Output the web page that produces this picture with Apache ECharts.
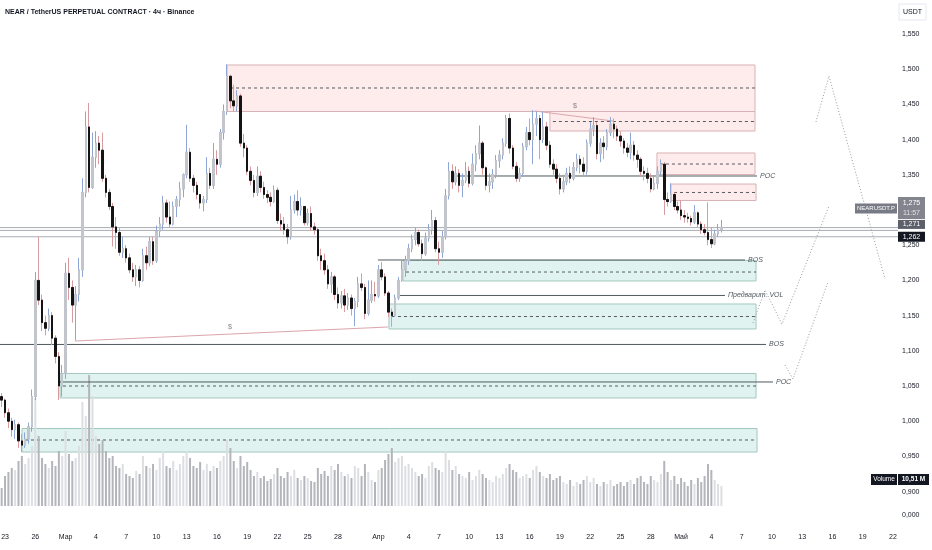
<!DOCTYPE html>
<html><head><meta charset="utf-8">
<script src="https://cdn.jsdelivr.net/npm/echarts@6/dist/echarts.min.js"></script>
<style>html,body{margin:0;padding:0;background:#fff}#c{width:932px;height:550px}</style>
</head><body><div id="c"></div>
<script>
// ---- data (8h candles, NEAR/USDT) ----
const startTime = Date.UTC(2025, 1, 22, 16); // first candle open time
const stepHours = 8;
const categoryCount = 267;
const firstOpen = 1.035;
const close = [
1.030,1.012,1.000,0.988,0.995,0.972,0.966,0.975,0.992,1.035,
1.200,1.172,1.140,1.132,1.150,1.118,1.092,1.050,1.068,1.210,
1.190,1.165,1.180,1.215,1.325,1.418,1.332,1.375,1.395,1.385,
1.345,1.325,1.305,1.276,1.268,1.240,1.245,1.232,1.215,1.205,
1.215,1.200,1.235,1.225,1.255,1.228,1.270,1.280,1.310,1.290,
1.280,1.305,1.315,1.330,1.350,1.382,1.345,1.335,1.322,1.310,
1.315,1.352,1.335,1.372,1.365,1.410,1.440,1.490,1.455,1.448,
1.462,1.395,1.388,1.355,1.342,1.325,1.348,1.332,1.322,1.318,
1.312,1.328,1.285,1.280,1.272,1.262,1.300,1.312,1.300,1.305,
1.282,1.295,1.276,1.272,1.235,1.228,1.215,1.195,1.205,1.180,
1.168,1.178,1.165,1.175,1.160,1.170,1.195,1.190,1.153,1.172,
1.180,1.178,1.215,1.205,1.182,1.155,1.150,1.175,1.200,1.215,
1.228,1.245,1.258,1.268,1.252,1.238,1.260,1.272,1.285,1.245,
1.240,1.262,1.320,1.355,1.340,1.352,1.335,1.342,1.355,1.338,
1.365,1.380,1.395,1.360,1.335,1.340,1.350,1.370,1.378,1.395,
1.430,1.388,1.362,1.345,1.352,1.390,1.410,1.400,1.422,1.430,
1.400,1.418,1.392,1.365,1.358,1.345,1.330,1.340,1.352,1.345,
1.360,1.372,1.365,1.355,1.395,1.415,1.420,1.380,1.395,1.390,
1.410,1.422,1.415,1.405,1.398,1.388,1.382,1.392,1.378,1.372,
1.355,1.352,1.345,1.330,1.338,1.355,1.365,1.315,1.312,1.322,
1.305,1.300,1.292,1.290,1.288,1.283,1.296,1.280,1.272,1.268,
1.258,1.252,1.266,1.272,1.275];
const high = [
1.040,1.032,1.018,1.005,1.002,0.998,0.982,0.984,0.998,1.045,
1.212,1.262,1.180,1.150,1.160,1.155,1.122,1.098,1.080,1.225,
1.232,1.200,1.192,1.232,1.345,1.440,1.452,1.410,1.412,1.405,
1.410,1.350,1.330,1.310,1.290,1.275,1.262,1.250,1.238,1.225,
1.222,1.220,1.245,1.248,1.262,1.262,1.278,1.290,1.320,1.315,
1.312,1.312,1.320,1.340,1.352,1.421,1.388,1.350,1.340,1.322,
1.320,1.375,1.360,1.395,1.385,1.415,1.450,1.507,1.492,1.478,
1.470,1.465,1.408,1.392,1.362,1.350,1.362,1.355,1.340,1.328,
1.325,1.335,1.332,1.295,1.290,1.280,1.320,1.322,1.328,1.318,
1.305,1.302,1.305,1.282,1.275,1.245,1.238,1.222,1.212,1.208,
1.190,1.185,1.188,1.182,1.180,1.175,1.205,1.210,1.195,1.200,
1.200,1.198,1.222,1.226,1.210,1.185,1.160,1.180,1.205,1.230,
1.235,1.252,1.265,1.275,1.272,1.258,1.268,1.280,1.300,1.290,
1.255,1.270,1.330,1.368,1.365,1.362,1.358,1.352,1.368,1.362,
1.380,1.392,1.420,1.398,1.362,1.352,1.358,1.378,1.385,1.402,
1.435,1.437,1.392,1.368,1.360,1.395,1.418,1.430,1.442,1.440,
1.435,1.440,1.425,1.398,1.372,1.365,1.352,1.350,1.360,1.362,
1.368,1.380,1.378,1.375,1.400,1.425,1.432,1.425,1.402,1.405,
1.415,1.432,1.430,1.420,1.412,1.402,1.395,1.410,1.398,1.385,
1.375,1.362,1.360,1.352,1.348,1.362,1.372,1.368,1.325,1.338,
1.325,1.312,1.314,1.300,1.296,1.292,1.307,1.298,1.284,1.280,
1.311,1.275,1.272,1.280,1.286];
const low = [
1.020,1.005,0.990,0.978,0.975,0.962,0.956,0.962,0.968,0.985,
1.030,1.165,1.128,1.122,1.128,1.108,1.082,1.030,1.035,1.060,
1.172,1.140,1.115,1.170,1.205,1.318,1.325,1.330,1.360,1.365,
1.340,1.318,1.300,1.248,1.245,1.235,1.232,1.225,1.210,1.198,
1.192,1.190,1.198,1.215,1.220,1.222,1.225,1.262,1.272,1.282,
1.275,1.278,1.290,1.305,1.318,1.345,1.340,1.325,1.315,1.302,
1.298,1.310,1.330,1.330,1.350,1.360,1.400,1.435,1.445,1.440,
1.440,1.390,1.375,1.350,1.335,1.318,1.320,1.325,1.316,1.310,
1.305,1.310,1.280,1.270,1.265,1.252,1.258,1.295,1.292,1.292,
1.278,1.278,1.270,1.265,1.228,1.215,1.208,1.188,1.182,1.172,
1.160,1.160,1.155,1.158,1.150,1.135,1.162,1.185,1.145,1.150,
1.168,1.170,1.175,1.200,1.178,1.148,1.134,1.148,1.172,1.198,
1.205,1.222,1.240,1.250,1.248,1.228,1.235,1.255,1.265,1.240,
1.222,1.232,1.258,1.315,1.330,1.335,1.325,1.318,1.338,1.332,
1.335,1.355,1.372,1.350,1.328,1.325,1.330,1.345,1.360,1.372,
1.390,1.380,1.358,1.340,1.340,1.348,1.385,1.392,1.365,1.405,
1.372,1.395,1.385,1.360,1.350,1.338,1.322,1.325,1.335,1.338,
1.342,1.355,1.352,1.348,1.350,1.390,1.405,1.372,1.368,1.372,
1.385,1.405,1.402,1.398,1.390,1.380,1.375,1.372,1.370,1.360,
1.348,1.342,1.338,1.325,1.328,1.330,1.350,1.293,1.305,1.310,
1.300,1.295,1.286,1.282,1.282,1.278,1.280,1.275,1.266,1.264,
1.250,1.246,1.250,1.262,1.268];
const volume = [ // millions
18,30,34,38,36,45,50,42,48,60,
108,70,48,42,38,45,40,55,50,75,
52,45,48,60,104,90,131,110,70,62,
66,55,48,50,40,38,42,32,30,28,
35,32,50,40,38,42,36,48,55,40,
38,45,36,42,50,55,48,40,38,44,
36,42,35,40,38,45,50,66,58,45,
38,50,40,44,36,30,34,28,30,25,
27,32,38,30,28,34,30,36,28,26,
30,28,25,24,38,32,35,30,40,36,
42,34,30,32,28,40,38,30,42,34,
26,24,36,38,46,52,58,44,48,50,
40,42,38,34,30,32,28,40,44,38,
36,34,55,46,36,40,32,30,28,34,
26,30,36,32,28,26,24,30,28,32,
38,42,36,34,28,30,32,28,36,40,
34,30,28,32,26,28,30,24,22,26,
20,24,22,26,30,24,28,22,20,24,
22,26,20,22,24,20,24,26,22,28,
30,24,22,30,26,24,32,45,34,26,
30,22,28,24,20,26,22,28,24,30,
42,36,26,22,20];
const tickDates = ['02-23','02-26','03-01','03-04','03-07','03-10','03-13','03-16','03-19','03-22','03-25','03-28',
 '04-01','04-04','04-07','04-10','04-13','04-16','04-19','04-22','04-25','04-28',
 '05-01','05-04','05-07','05-10','05-13','05-16','05-19','05-22'];
const tickTexts = ['23','26','Мар','4','7','10','13','16','19','22','25','28',
 'Апр','4','7','10','13','16','19','22','25','28',
 'Май','4','7','10','13','16','19','22'];
// annotation zones (x in days from 1 Mar 00:00 UTC)
const zoneSide   = ['sell','sell','sell','sell','buy','buy','buy','buy'];
const zoneStart  = [16.0, 48.0, 58.61, 60.0, 33.44, 32.05, -0.55, -4.32];
const zoneEnd    = [68.33, 68.33, 68.33, 68.43, 68.43, 68.43, 68.43, 68.53];
const zoneTop    = [1.5060, 1.4399, 1.3810, 1.3369, 1.2283, 1.1665, 1.0678, 0.9896];
const zoneBottom = [1.4399, 1.4122, 1.3504, 1.3135, 1.1992, 1.1310, 1.0330, 0.9562];
const zoneMid    = [1.4733, 1.4257, 1.3653, 1.3249, 1.2119, 1.1487, 1.0500, 0.9733];
// levels
const levelNames = ['POC', 'BOS', 'Предварит. VOL', 'BOS', 'POC'];
const levelPrice = [1.3483, 1.2290, 1.1786, 1.1090, 1.0557];
const levelStart = [38.6, 30.96, 33.14, -6.5, -0.75];
const levelEnd   = [68.53, 67.34, 65.35, 69.42, 70.11];
// liquidity ($) lines
const liqLines = [[[0.93, 1.1139], [31.95, 1.1338]], [[46.52, 1.4406], [54.25, 1.4264]]];
const liqLabels = [[16.3, 1.1338], [50.49, 1.4477]];
// projected paths
const projA = [[68.13, 1.1395], [69.32, 1.1864], [71.0, 1.1380], [75.66, 1.3057]];
const projB = [[71.30, 1.0798], [72.09, 1.0599], [75.56, 1.1977]];
const projC = [[74.37, 1.4250], [75.66, 1.4903], [81.21, 1.2020]];
// price lines
const priceLines = [1.275, 1.271, 1.262];
const lastPriceText = '1,275', countdownText = '11:57', markPriceText = '1,271', bidText = '1,262';
const volumeText = '10,51 M';

// ---- build ----
const pad = n => String(n).padStart(2, '0');
const cats = [];
for (let i = 0; i < categoryCount; i++) {
  const t = new Date(startTime + i * stepHours * 3600e3);
  cats.push(pad(t.getUTCMonth() + 1) + '-' + pad(t.getUTCDate()) + ' ' + pad(t.getUTCHours()));
}
const tickMap = {};
tickDates.forEach((d, k) => { tickMap[d + ' 00'] = tickTexts[k]; });
const open = close.map((c, i) => i === 0 ? firstOpen : close[i - 1]);
const ohlc = close.map((c, i) => [open[i], c, low[i], high[i]]);
const bodies = close.map((c, i) => [open[i], c, Math.min(open[i], c), Math.max(open[i], c)]);
const volData = volume.map((v, i) => ({ value: v, itemStyle: { color: close[i] >= open[i] ? '#dcdee2' : '#b3b5ba' } }));
const zoneData = zoneSide.map((s, k) => [zoneStart[k], zoneEnd[k], zoneTop[k], zoneBottom[k], zoneMid[k], s === 'sell' ? 0 : 1]);

const FONT = '"Liberation Sans", Arial, sans-serif';
const chart = echarts.init(document.getElementById('c'));
const series = [];
series.push({
  type: 'custom', xAxisIndex: 1, yAxisIndex: 0, z: 1, silent: true, data: zoneData,
  renderItem: (params, api) => {
    const a = api.coord([api.value(0), api.value(2)]);
    const b = api.coord([api.value(1), api.value(3)]);
    const m1 = api.coord([api.value(0), api.value(4)]);
    const m2 = api.coord([api.value(1), api.value(4)]);
    const sell = api.value(5) === 0;
    return { type: 'group', children: [
      { type: 'rect', shape: { x: a[0], y: a[1], width: b[0] - a[0], height: b[1] - a[1] },
        style: { fill: sell ? 'rgba(242,54,69,0.10)' : 'rgba(8,153,129,0.12)', stroke: sell ? '#d9b2b5' : '#a3c8bf', lineWidth: 1 } },
      { type: 'line', shape: { x1: m1[0] + 3, y1: m1[1], x2: m2[0], y2: m2[1] },
        style: { stroke: '#555b60', lineWidth: 1, lineDash: [3, 3] } }
    ] };
  }
});
levelNames.forEach((n, k) => series.push({
  type: 'line', xAxisIndex: 1, yAxisIndex: 0, z: 2, silent: true, symbol: 'none',
  data: [[levelStart[k], levelPrice[k]], [levelEnd[k], levelPrice[k]]],
  lineStyle: { color: '#4f5a5e', width: 1 },
  endLabel: { show: true, formatter: n, color: '#50555c', fontSize: 7, fontStyle: 'italic', fontFamily: FONT, distance: 3 }
}));
priceLines.forEach(p => series.push({
  type: 'line', xAxisIndex: 1, yAxisIndex: 0, z: 2, silent: true, symbol: 'none',
  data: [[-6.5, p], [82.5, p]], lineStyle: { color: '#a9acb3', width: 1 }
}));
liqLines.forEach(l => series.push({
  type: 'line', xAxisIndex: 1, yAxisIndex: 0, z: 2, silent: true, symbol: 'none',
  data: l, lineStyle: { color: '#dca5ab', width: 1 }
}));
[projA, projB, projC].forEach(p => series.push({
  type: 'line', xAxisIndex: 1, yAxisIndex: 0, z: 2, silent: true, symbol: 'none',
  data: p, lineStyle: { color: '#9a9a9a', width: 1, type: [1, 2] }
}));
series.push({
  type: 'scatter', xAxisIndex: 1, yAxisIndex: 0, z: 2, silent: true, symbolSize: 0.1,
  data: liqLabels,
  label: { show: true, formatter: '$', position: 'inside', color: '#666', fontSize: 7, fontFamily: FONT }
});
series.push({
  type: 'bar', xAxisIndex: 2, yAxisIndex: 1, z: 2, silent: true, barWidth: 2, data: volData
});
series.push({
  type: 'candlestick', xAxisIndex: 0, yAxisIndex: 0, z: 3, silent: true, barWidth: 2, data: ohlc,
  itemStyle: { color: 'transparent', color0: 'transparent', borderColor: '#8ea6d6', borderColor0: '#d89ca0', borderWidth: 1 }
});
series.push({
  type: 'candlestick', xAxisIndex: 0, yAxisIndex: 0, z: 4, silent: true, barWidth: 2, data: bodies,
  itemStyle: { color: '#c2c5cc', color0: '#141414', borderColor: '#c2c5cc', borderColor0: '#141414', borderWidth: 1 }
});

chart.setOption({
  animation: false,
  backgroundColor: '#ffffff',
  grid: [
    { left: 0, right: 34, top: 0, height: 526.8, containLabel: false, outerBoundsMode: 'none' },
    { left: 0, right: 34, top: 364, height: 142, containLabel: false, outerBoundsMode: 'none' }
  ],
  xAxis: [
    { type: 'category', gridIndex: 0, data: cats, boundaryGap: true,
      axisLine: { show: false }, axisTick: { show: false }, splitLine: { show: false },
      axisLabel: { show: true, margin: 7, fontSize: 7, color: '#131722', fontFamily: FONT,
        interval: (idx, val) => tickMap[val] !== undefined,
        formatter: val => tickMap[val] || '' } },
    { type: 'value', gridIndex: 0, min: -6.5, max: 82.5, show: false },
    { type: 'category', gridIndex: 1, data: cats, boundaryGap: true, show: false }
  ],
  yAxis: [
    { type: 'value', gridIndex: 0, position: 'right', min: 0.85, max: 1.5983, interval: 0.05,
      axisLine: { show: false }, axisTick: { show: false }, splitLine: { show: false },
      axisLabel: { margin: 4, fontSize: 7, color: '#131722', fontFamily: FONT, showMaxLabel: false,
        formatter: v => { const k = Math.round(v * 20); if (Math.abs(v * 20 - k) > 1e-6 || k === 17) return ''; return (k / 20).toFixed(3).replace('.', ','); } } },
    { type: 'value', gridIndex: 1, min: 0, max: 142, show: false }
  ],
  series: series
});

const yPix = p => chart.convertToPixel({ yAxisIndex: 0 }, p);
const box = (x, y, w, h, fill) => ({ type: 'rect', z: 100, shape: { x, y, width: w, height: h }, style: { fill } });
const txt = (t, x, y, fill, size, align, weight) => ({ type: 'text', z: 101, style: { text: t, x, y, fill, fontSize: size, fontFamily: FONT, fontWeight: weight || 'normal', align: align || 'center', verticalAlign: 'middle' } });
const yLast = yPix(priceLines[0]) - 19.6, yMark = yPix(priceLines[1]) - 6, yBid = yPix(priceLines[2]);
chart.setOption({ graphic: [
  txt('NEAR / TetherUS PERPETUAL CONTRACT · 4ч · Binance', 5, 12, '#131722', 7, 'left', 'bold'),
  { type: 'rect', z: 100, shape: { x: 899, y: 4, width: 27, height: 16 }, style: { fill: '#fff', stroke: '#e6e8ee', lineWidth: 1 } },
  txt('USDT', 912.5, 12, '#131722', 7),
  box(855, yLast - 4.5, 42, 10, '#787b86'),
  txt('NEARUSDT.P', 876, yLast + 0.5, '#ffffff', 6),
  box(898, yLast - 11, 27, 22, '#82858e'),
  txt(lastPriceText, 911.5, yLast - 5, '#ffffff', 7),
  txt(countdownText, 911.5, yLast + 5, '#e2e3e6', 7),
  box(898, yMark - 4.5, 27, 9, '#5d606b'),
  txt(markPriceText, 911.5, yMark, '#ffffff', 7),
  box(898, yBid - 5, 27, 10, '#131722'),
  txt(bidText, 911.5, yBid, '#ffffff', 7),
  box(871, 474, 26, 11, '#131722'),
  txt('Volume', 884, 479.5, '#ffffff', 6.5),
  box(898, 474, 31, 11, '#131722'),
  txt(volumeText, 913.5, 479.5, '#ffffff', 6.5, 'center', 'bold'),
  txt('0,000', 902, 515, '#131722', 7, 'left')
] });
</script></body></html>
